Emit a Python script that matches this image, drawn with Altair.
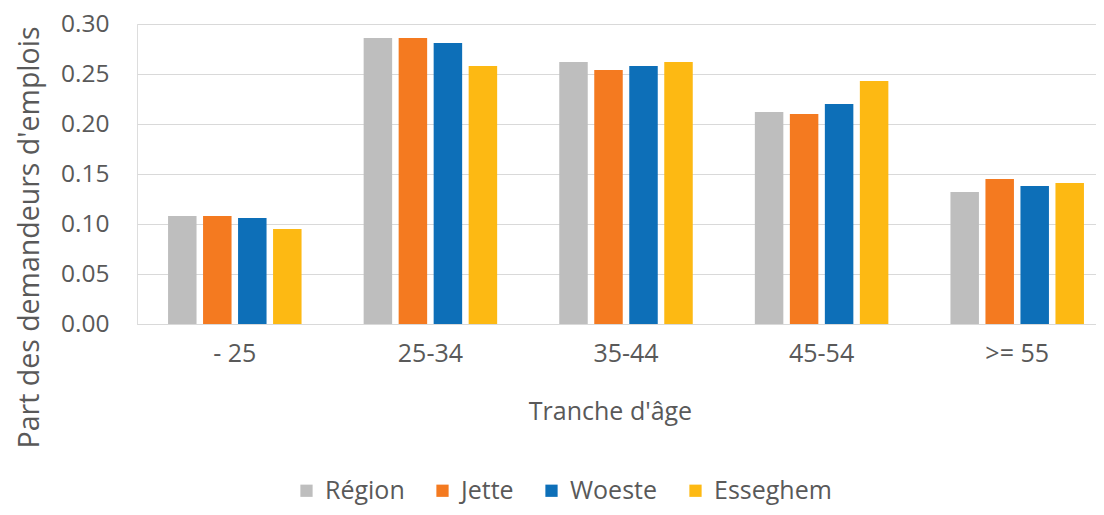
import altair as alt
import pandas as pd

ages = ["- 25", "25-34", "35-44", "45-54", ">= 55"]
series = ["Région", "Jette", "Woeste", "Esseghem"]
colors = ["#BEBEBE", "#F47A20", "#0D6FB8", "#FDB913"]

region = [0.108, 0.286, 0.262, 0.212, 0.132]
jette = [0.108, 0.286, 0.254, 0.210, 0.145]
woeste = [0.106, 0.281, 0.258, 0.220, 0.138]
esseghem = [0.095, 0.258, 0.262, 0.243, 0.141]

values = {"Région": region, "Jette": jette, "Woeste": woeste, "Esseghem": esseghem}
rows = []
for s in series:
    for a, v in zip(ages, values[s]):
        rows.append({"age": a, "serie": s, "part": v})
df = pd.DataFrame(rows)

FONT = "Open Sans"
TXT = "#595959"

chart = alt.Chart(df).mark_bar().encode(
    x=alt.X(
        "age:N",
        sort=ages,
        scale=alt.Scale(range=[0, 978], paddingInner=0, paddingOuter=0),
        axis=alt.Axis(
            title="Tranche d'âge",
            labelAngle=0,
            labelFontSize=25,
            labelColor=TXT,
            labelFont=FONT,
            labelPadding=17,
            ticks=False,
            domain=True,
            domainColor="#D9D9D9",
            titleFontSize=25,
            titleFont=FONT,
            titleColor=TXT,
            titleFontWeight="normal",
            titleX=473,
            titleY=95,
            titleBaseline="alphabetic",
            titleAlign="center",
        ),
    ),
    xOffset=alt.XOffset(
        "serie:N",
        sort=series,
        scale=alt.Scale(paddingInner=0.186, paddingOuter=0.887),
    ),
    y=alt.Y(
        "part:Q",
        scale=alt.Scale(domain=[0, 0.30], nice=False),
        axis=alt.Axis(
            title="Part des demandeurs d'emplois",
            values=[0, 0.05, 0.10, 0.15, 0.20, 0.25, 0.30],
            format=".2f",
            labelFontSize=24.5,
            labelColor=TXT,
            labelFont=FONT,
            labelPadding=28,
            ticks=False,
            domain=False,
            grid=True,
            gridColor="#D9D9D9",
            gridWidth=1.2,
            titleFontSize=28.5,
            titleFont=FONT,
            titleColor=TXT,
            titleFontWeight="normal",
            titleX=-108,
            titleY=213,
            titleAlign="center",
            titleBaseline="middle",
            titleAngle=270,
        ),
    ),
    color=alt.Color(
        "serie:N",
        sort=series,
        scale=alt.Scale(domain=series, range=colors),
        legend=alt.Legend(
            title=None,
            orient="none",
            direction="horizontal",
            legendX=157,
            legendY=454,
            symbolType="square",
            symbolSize=150,
            symbolStrokeWidth=0,
            labelFontSize=25,
            labelFont=FONT,
            labelColor=TXT,
            labelOffset=6,
            columnPadding=25,
            symbolOpacity=1,
        ),
    ),
).properties(
    width=959,
    height=300,
    autosize=alt.AutoSizeParams(type="none"),
    padding={"left": 129, "top": 16, "right": 0, "bottom": 183},
).configure_view(
    stroke=None
).configure(
    font=FONT
)

chart.save("out.html", embed_options={"renderer": "svg", "actions": False})
